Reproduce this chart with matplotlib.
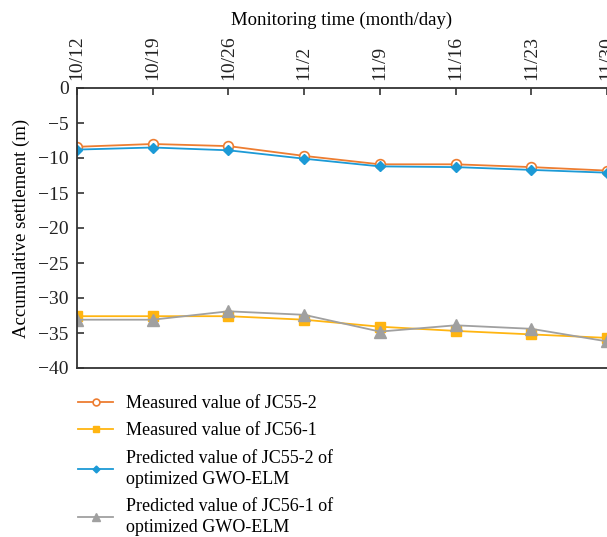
import matplotlib
matplotlib.use("Agg")
import matplotlib.pyplot as plt

plt.rcParams['font.family'] = ['Liberation Serif', 'DejaVu Serif']
plt.rcParams['axes.unicode_minus'] = True

dates = ["10/12", "10/19", "10/26", "11/2", "11/9", "11/16", "11/23", "11/30"]
jc55_measured = [-8.4, -8.0, -8.3, -9.7, -10.9, -10.9, -11.3, -11.8]
jc56_measured = [-32.6, -32.6, -32.6, -33.1, -34.1, -34.7, -35.2, -35.7]
jc55_predicted = [-8.8, -8.5, -8.9, -10.1, -11.2, -11.3, -11.7, -12.1]
jc56_predicted = [-33.1, -33.1, -31.9, -32.4, -34.8, -33.9, -34.4, -36.2]

labels = ["Measured value of JC55-2",
          "Measured value of JC56-1",
          "Predicted value of JC55-2 of\noptimized GWO-ELM",
          "Predicted value of JC56-1 of\noptimized GWO-ELM"]

fig = plt.figure(figsize=(6.07, 5.37), dpi=100)
ax = fig.add_axes([77/607, 1-368/537, 1-77/607, (368-88)/537])

x = list(range(len(dates)))
l1, = ax.plot(x, jc55_measured, color='#ED7D31', lw=1.3, marker='o', ms=7,
              mfc='white', mec='#ED7D31', mew=1.2)
l2, = ax.plot(x, jc56_measured, color='#FFB511', lw=1.3, marker='s', ms=7,
              mfc='#FFB511', mec='#FFB511')
l3, = ax.plot(x, jc55_predicted, color='#1C9AD6', lw=1.3, marker='D', ms=5,
              mfc='#1C9AD6', mec='#1C9AD6')
l4, = ax.plot(x, jc56_predicted, color='#A0A0A0', lw=1.3, marker='^', ms=8,
              mfc='#A0A0A0', mec='#A0A0A0')

ax.set_xlim(0, 7)
ax.set_ylim(-40, 0)
ax.set_yticks(range(-40, 1, 5))
ax.xaxis.tick_top()
ax.xaxis.set_label_position('top')
ax.set_xticks(x)
ax.set_xticklabels(dates, rotation=90)
ax.set_xlabel("Monitoring time (month/day)", fontsize=13.5, labelpad=7)
ax.set_ylabel("Accumulative settlement (m)", fontsize=13.5, labelpad=6)
ax.tick_params(axis='both', direction='in', length=5, width=1.2, colors='#333333',
               labelcolor='#222222', labelsize=14)
ax.tick_params(axis='x', pad=6)
ax.tick_params(axis='y', pad=6)
for s in ['left', 'top', 'bottom']:
    ax.spines[s].set_color('#333333')
    ax.spines[s].set_linewidth(1.3)
ax.spines['right'].set_visible(False)

leg = fig.legend([l1, l2, l3, l4], labels, loc='upper left',
                 bbox_to_anchor=(78/607, 1-395/537), frameon=False, fontsize=13,
                 handlelength=1.95, labelspacing=0.58, handletextpad=0.72,
                 borderpad=0, borderaxespad=0, markerscale=0.7)
for t in leg.get_texts():
    t.set_linespacing(1.3)

fig.savefig("out.png", dpi=100)
